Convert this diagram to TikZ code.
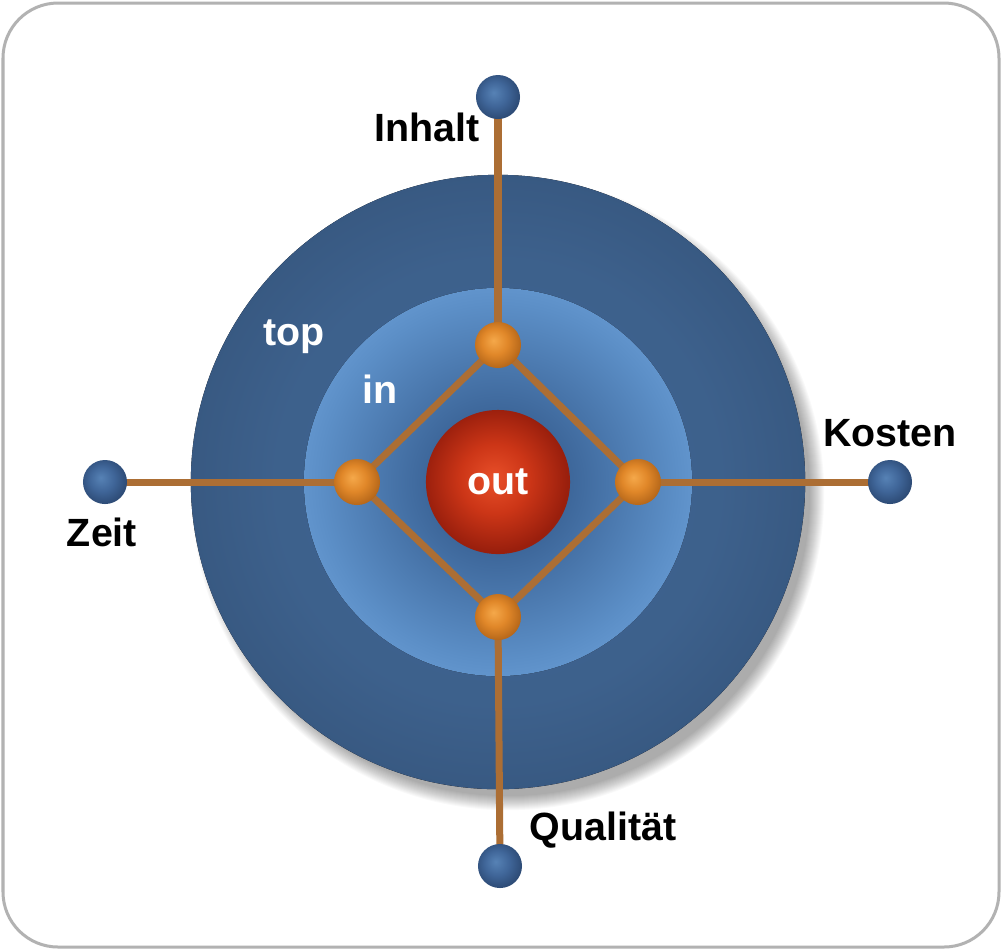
\documentclass[tikz,border=0pt]{standalone}
\usepackage{fontspec}
\setmainfont{Liberation Sans}
\usepackage{tikz}
\usepackage{xcolor}
\usetikzlibrary{backgrounds}

\definecolor{rodbrown}{RGB}{172,110,52}
\definecolor{framegray}{RGB}{178,178,178}
\pgfdeclareradialshading{topdisk}{\pgfpointorigin}{rgb(0bp)=(0.25,0.39,0.56); rgb(18bp)=(0.24,0.38,0.55); rgb(25bp)=(0.22,0.35,0.51); rgb(50bp)=(0.22,0.35,0.51)}
\pgfdeclareradialshading{indisk}{\pgfpointorigin}{rgb(0bp)=(0.22,0.37,0.57); rgb(8bp)=(0.23,0.39,0.59); rgb(23bp)=(0.36,0.56,0.78); rgb(25bp)=(0.38,0.58,0.80); rgb(50bp)=(0.38,0.58,0.80)}
\pgfdeclareradialshading{outball}{\pgfpoint{-1.5bp}{1.5bp}}{rgb(0bp)=(0.91,0.31,0.16); rgb(12bp)=(0.80,0.21,0.09); rgb(25bp)=(0.60,0.12,0.05); rgb(50bp)=(0.60,0.12,0.05)}
\pgfdeclareradialshading{orball}{\pgfpoint{-5bp}{5bp}}{rgb(0bp)=(0.96,0.66,0.29); rgb(14bp)=(0.88,0.53,0.16); rgb(30bp)=(0.68,0.38,0.09); rgb(50bp)=(0.68,0.38,0.09)}
\pgfdeclareradialshading{blball}{\pgfpoint{-5bp}{5bp}}{rgb(0bp)=(0.34,0.51,0.71); rgb(14bp)=(0.25,0.40,0.60); rgb(30bp)=(0.16,0.27,0.43); rgb(50bp)=(0.16,0.27,0.43)}

\tikzset{
  ends/.style={circle,inner sep=0pt,minimum size=0.44cm,shading=blball},
  joint/.style={circle,inner sep=0pt,minimum size=0.46cm,shading=orball},
  rod/.style={rodbrown,line width=0.07cm},
  lab/.style={font=\fontsize{11.2}{13}\selectfont\bfseries},
  wlab/.style={lab,text=white,anchor=base}
}

\begin{document}
\begin{tikzpicture}[x=0.01cm,y=-0.01cm]
  \useasboundingbox (0,0) rectangle (1002,950);

  \node[ends] (inhalt) at (498,97) {};
  \node[ends] (zeit) at (105,482) {};
  \node[ends] (kosten) at (890,482) {};
  \node[ends] (qual) at (500,866) {};

  \node[joint] (dtop) at (498,345) {};
  \node[joint] (dleft) at (357,482) {};
  \node[joint] (dright) at (638,482) {};
  \node[joint] (dbot) at (498,617) {};

  \node[circle,inner sep=0pt,minimum size=1.44cm,shading=outball,text=white,lab] (out) at (498,482) {out};

  \node[lab] (tinhalt) at (427,127) {Inhalt};
  \node[lab] (tkosten) at (890,433) {Kosten};
  \node[lab] (tzeit) at (102,532) {Zeit};
  \node[lab] (tqual) at (603,830) {Qualität};
  \node[wlab] (ttop) at (294,345) {top};
  \node[wlab] (tin) at (380,403) {in};

  \begin{scope}[on background layer]
    \fill[white] (0,0) rectangle (1002,950);
    \draw[framegray,line width=0.03cm,rounded corners=0.55cm] (3,3) rectangle (999,947);
    \foreach \k in {0,...,14}
      \fill[black,opacity=0.022] (508,494) circle ({3.02cm+\k*0.01cm});
    \fill[shading=topdisk] (498,482) circle (3.07cm);
    \fill[shading=indisk] (498,482) circle (1.94cm);
    \draw[rod] (inhalt.center) -- (dtop.center);
    \draw[rod] (zeit.center) -- (dleft.center);
    \draw[rod] (kosten.center) -- (dright.center);
    \draw[rod] (qual.center) -- (dbot.center);
    \draw[rod] (dtop.center) -- (dright.center) -- (dbot.center) -- (dleft.center) -- cycle;
  \end{scope}
\end{tikzpicture}
\end{document}
